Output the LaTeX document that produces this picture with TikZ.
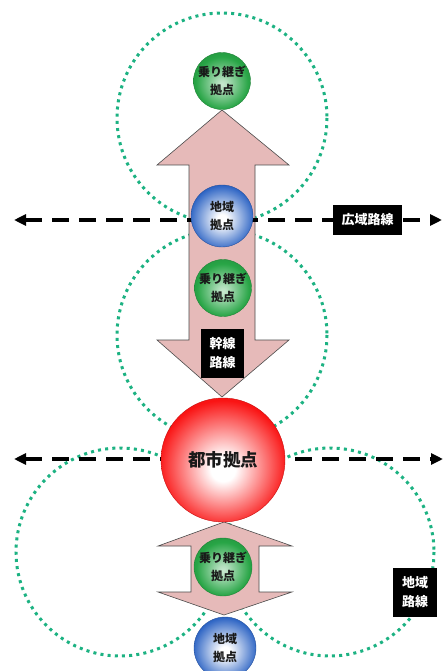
\documentclass[tikz,border=0pt]{standalone}
\usepackage{fontspec}
\newfontfamily\jp{Noto Sans CJK JP}
\usetikzlibrary{arrows.meta}
\definecolor{dotc}{RGB}{28,178,130}
\definecolor{arrowfill}{RGB}{230,186,185}
\definecolor{redc}{RGB}{250,20,20}
\definecolor{bluec}{RGB}{45,100,196}
\definecolor{greenc}{RGB}{40,165,70}
\pgfdeclareradialshading{redball}{\pgfpoint{0bp}{-4bp}}{color(0bp)=(white); color(5bp)=(white); color(26bp)=(redc); color(34bp)=(redc!90!black); color(50bp)=(redc!90!black)}
\pgfdeclareradialshading{blueball}{\pgfpoint{0bp}{-3bp}}{color(0bp)=(white); color(4bp)=(white); color(26bp)=(bluec); color(34bp)=(bluec!85!black); color(50bp)=(bluec!85!black)}
\pgfdeclareradialshading{greenball}{\pgfpoint{0bp}{-3bp}}{color(0bp)=(white!75!greenc); color(4bp)=(white!65!greenc); color(23bp)=(greenc); color(34bp)=(greenc!85!black); color(50bp)=(greenc!85!black)}
\begin{document}
\begin{tikzpicture}[x=1pt,y=-1pt,
  zone/.style={draw=dotc, line width=3pt, dash pattern=on 3pt off 4.2pt},
  bigarrow/.style={fill=arrowfill, draw=black!70, line width=0.6pt, line join=miter},
  route/.style={line width=3.2pt, dash pattern=on 17pt off 10pt, {Triangle[length=12pt,width=11pt]}-{Triangle[length=12pt,width=11pt]}},
  sphere/.style={circle, inner sep=0pt, align=center, text=black!90, font=\jp\bfseries\fontsize{12}{18}\selectfont},
  city/.style={sphere, shading=redball, draw=redc!80!black, line width=0.4pt, minimum size=124pt, font=\jp\bfseries\fontsize{17.5}{20}\selectfont},
  local/.style={sphere, shading=blueball, draw=bluec!80!black, line width=0.4pt, minimum size=62pt},
  transfer/.style={sphere, shading=greenball, draw=greenc!80!black, line width=0.4pt, minimum size=57pt},
  tag/.style={fill=black, text=white, inner sep=0pt, align=center, font=\jp\bfseries\fontsize{13}{19}\selectfont}
]
\clip (0,0) rectangle (444,671);
\fill[white] (0,0) rectangle (444,671);

% service zones (dotted)
\draw[zone] (222,118) circle[radius=105];
\draw[zone] (222,335) circle[radius=105];
\draw[zone] (120,552) circle[radius=104];
\draw[zone] (330,552) circle[radius=104];

% trunk double arrow
\path[bigarrow] (222,110) -- (289,165) -- (255,165) -- (255,340) -- (289,340) -- (222,397)
  -- (157,340) -- (189,340) -- (189,165) -- (157,165) -- cycle;
% lower double arrow
\path[bigarrow] (224,522) -- (292,546) -- (259,546) -- (259,592) -- (292,592) -- (224,615)
  -- (158,592) -- (191,592) -- (191,546) -- (158,546) -- cycle;

% routes (dashed)
\coordinate (wl) at (14,220);
\coordinate (wr) at (442,220);
\coordinate (cl) at (14,459);
\coordinate (cr) at (443,459);
\draw[route] (wl) -- (wr);
\draw[route] (cl) -- (cr);

% nodes
\node[transfer] (t1) at (222,81) {乗り継ぎ\\拠点};
\node[local] (l1) at (222,216) {地域\\拠点};
\node[transfer] (t2) at (223,288) {乗り継ぎ\\拠点};
\node[city] (c) at (223,460) {都市拠点};
\node[transfer, minimum size=58pt] (t3) at (223,567) {乗り継ぎ\\拠点};
\node[local] (l2) at (225,648) {地域\\拠点};

% labels
\node[tag, minimum width=69pt, minimum height=30pt] (wide) at (367.5,220) {広域路線};
\node[tag, minimum width=43pt, minimum height=49pt] (trunk) at (222.5,353.5) {幹線\\路線};
\node[tag, minimum width=44pt, minimum height=49pt] (area) at (415,592.5) {地域\\路線};
\end{tikzpicture}
\end{document}
